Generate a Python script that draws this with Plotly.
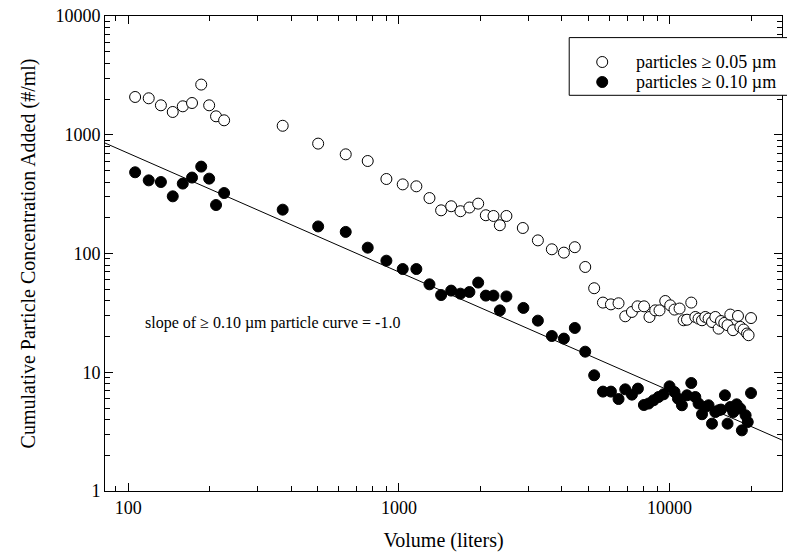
import plotly.graph_objects as go

# Open circles: particles >= 0.05 um
vol_005 = [106, 119, 132, 146, 159, 172, 186, 199, 211, 226,
           372, 503, 636, 767, 899, 1033, 1160, 1297, 1432, 1560,
           1688, 1822, 1963, 2095, 2236, 2360, 2496, 2870, 3262, 3673,
           4070, 4467, 4880, 5266, 5674, 6073, 6479, 6860, 7261, 7615,
           8050, 8430, 8852, 9183, 9640, 10060, 10430, 10890, 11270, 11600,
           12030, 12450, 12800, 13180, 13550, 13940, 14350, 14760, 15180, 15490,
           15930, 16380, 16770, 17160, 17900, 18260, 18780, 19330, 19590, 20000]
conc_005 = [2080, 2028, 1770, 1555, 1736, 1851, 2645, 1770, 1430, 1323,
            1190, 842, 684, 601, 424, 382, 368, 293, 231, 250,
            227, 244, 263, 210, 207, 173, 207, 164, 129, 108.5,
            101.7, 113, 77, 51, 38.6, 37.3, 38.1, 29.6, 32.2, 35.9,
            35.9, 29.2, 33.2, 33.2, 39.8, 36.6, 33.7, 34.4, 27.4, 27.7,
            38.6, 29.2, 28.3, 27.4, 29.2, 28.3, 26.5, 29.2, 23.3, 27.0,
            26.0, 24.9, 30.6, 22.6, 29.8, 24.1, 22.9, 21.2, 20.5, 28.6]

# Filled circles: particles >= 0.10 um
vol_010 = [106, 119, 132, 146, 159, 172, 186, 199, 211, 226,
           372, 503, 636, 767, 899, 1033, 1160, 1297, 1432, 1560,
           1688, 1822, 1963, 2095, 2236, 2360, 2496, 2884, 3262, 3673,
           4070, 4467, 4880, 5266, 5674, 6073, 6479, 6860, 7261, 7640,
           8040, 8364, 8730, 9107, 9502, 10000, 10430, 10740, 11110, 11600,
           12030, 12450, 12800, 13180, 13550, 13940, 14350, 14760, 15180, 15490,
           16020, 16380, 16770, 17200, 17700, 18260, 18500, 19100, 19450, 20000]
conc_010 = [483, 413, 400, 303, 388, 436, 539, 427, 256, 323,
            234, 169, 152, 112, 87, 74, 74, 55, 44.7, 48.7,
            45.9, 47.4, 56.9, 44.2, 44.2, 33.2, 43.5, 34.8, 27.2, 20.2,
            19.2, 23.6, 14.9, 9.43, 6.87, 6.87, 5.95, 7.18, 6.48, 7.28,
            5.3, 5.45, 5.81, 6.19, 6.52, 7.61, 6.82, 6.0, 5.27, 6.4,
            8.12, 6.19, 5.45, 4.43, 5.1, 5.27, 3.69, 4.62, 4.78, 4.85,
            6.4, 3.69, 5.1, 4.62, 5.37, 4.94, 3.24, 4.34, 3.81, 6.68]

# Fitted slope -1 line endpoints
fit_x = [82, 26000]
fit_y = [852, 2.69]

x_ticks = [100, 1000, 10000]
y_ticks = [1, 10, 100, 1000, 10000]
x_minor = [90, 200, 300, 400, 500, 600, 700, 800, 900,
           2000, 3000, 4000, 5000, 6000, 7000, 8000, 9000, 20000]
y_minor = [m * d for d in (1, 10, 100, 1000) for m in range(2, 10)]

legend_labels = ["particles \u2265 0.05 \u00b5m", "particles \u2265 0.10 \u00b5m"]
slope_text = "slope of \u2265 0.10 \u00b5m particle curve = -1.0"

FONT = "Liberation Serif, Times New Roman, serif"
X_RANGE = [1.914, 4.4155]
Y_RANGE = [0, 4]

fig = go.Figure()
fig.add_trace(go.Scatter(x=fit_x, y=fit_y, mode="lines",
                         line=dict(color="black", width=1), showlegend=False,
                         hoverinfo="skip"))
fig.add_trace(go.Scatter(x=vol_005, y=conc_005, mode="markers",
                         name=legend_labels[0], showlegend=False,
                         marker=dict(symbol="circle", size=11, color="white",
                                     line=dict(color="black", width=1))))
fig.add_trace(go.Scatter(x=vol_010, y=conc_010, mode="markers",
                         name=legend_labels[1], showlegend=False,
                         marker=dict(symbol="circle", size=11, color="black",
                                     line=dict(color="black", width=1))))
# invisible trace to hold the minor-tick overlay axes
fig.add_trace(go.Scatter(x=[1000], y=[10], xaxis="x2", yaxis="y2",
                         mode="markers", marker=dict(opacity=0),
                         showlegend=False, hoverinfo="skip"))

major = dict(
    type="log", showgrid=False, zeroline=False,
    showline=True, linecolor="black", linewidth=1, mirror="ticks",
    ticks="inside", ticklen=8, tickcolor="black", tickwidth=1,
    tickfont=dict(family=FONT, size=18, color="black"),
)
minor = dict(
    type="log", showgrid=False, zeroline=False, showline=False,
    mirror="ticks", ticks="inside", ticklen=5, tickcolor="black", tickwidth=1,
    showticklabels=False,
)

fig.update_layout(
    xaxis=dict(**major, range=X_RANGE, tickvals=x_ticks,
               ticktext=[str(v) for v in x_ticks],
               title=dict(text="Volume (liters)",
                          font=dict(family=FONT, size=20, color="black"),
                          standoff=16)),
    yaxis=dict(**major, range=Y_RANGE, tickvals=y_ticks,
               ticktext=[str(v) for v in y_ticks],
               title=dict(text="Cumulative Particle Concentration Added (#/ml)",
                          font=dict(family=FONT, size=20, color="black"),
                          standoff=14)),
    xaxis2=dict(**minor, range=X_RANGE, tickvals=x_minor, overlaying="x",
                anchor="y"),
    yaxis2=dict(**minor, range=Y_RANGE, tickvals=y_minor, overlaying="y",
                anchor="x"),
)

fig.add_annotation(x=2.054, y=1.412, xref="x", yref="y",
                   text=slope_text,
                   showarrow=False, xanchor="left", yanchor="middle",
                   font=dict(family=FONT, size=16, color="black"))

# manual legend (pixel positions converted to paper fractions)
PW, PH, L, B = 676.7, 475.0, 105.0, 490.7
def px(xp):
    return (xp - L) / PW
def py(yp):
    return (B - yp) / PH

fig.add_shape(type="rect", xref="paper", yref="paper",
              x0=px(569), x1=px(800), y0=py(95), y1=py(37.3),
              line=dict(color="black", width=1), fillcolor="white", layer="above")
for i, (lab, fill) in enumerate(zip(legend_labels, ["white", "black"])):
    yc = py(61.7 + 20 * i)
    fig.add_shape(type="circle", xref="paper", yref="paper",
                  xsizemode="pixel", ysizemode="pixel",
                  xanchor=px(602), yanchor=yc, x0=-5.5, x1=5.5, y0=-5.5, y1=5.5,
                  line=dict(color="black", width=1), fillcolor=fill, layer="above")
    fig.add_annotation(x=px(634), y=yc, xref="paper", yref="paper",
                       text=lab, showarrow=False, xanchor="left", yanchor="middle",
                       font=dict(family=FONT, size=18, color="black"))

fig.update_layout(
    width=787, height=557,
    margin=dict(l=105, r=5.3, t=15.7, b=66.3),
    paper_bgcolor="white", plot_bgcolor="white",
    font=dict(family=FONT, color="black"),
    showlegend=False,
)

fig.write_html("out.html")
